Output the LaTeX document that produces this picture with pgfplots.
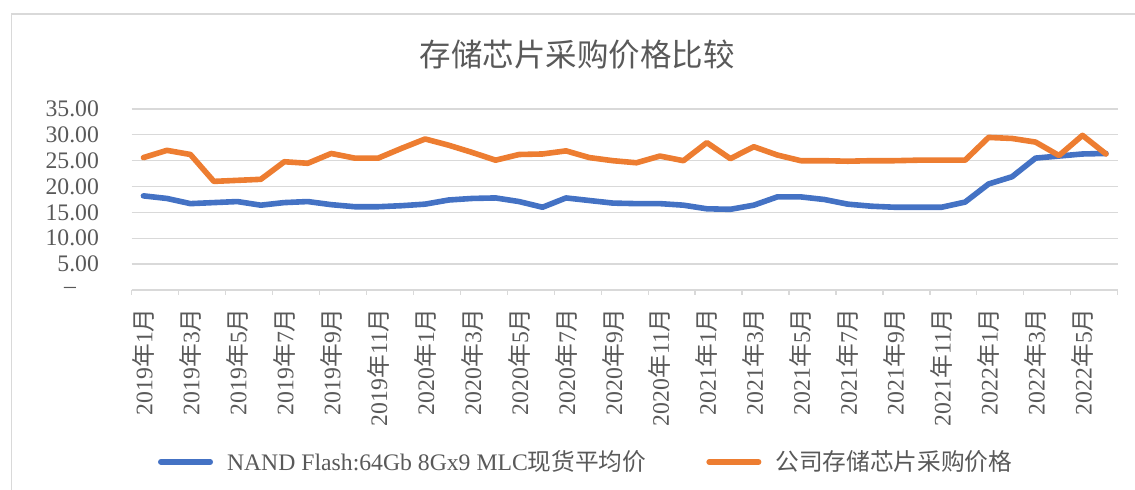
\documentclass[border=0pt]{standalone}
\usepackage{fontspec}
\setmainfont{Liberation Serif}
\newfontfamily\cjk{Noto Sans CJK SC}
\usepackage{pgfplots}
\pgfplotsset{compat=1.18}

\definecolor{nandblue}{HTML}{4472C4}
\definecolor{buyorange}{HTML}{ED7D31}
\definecolor{txtgray}{HTML}{595959}
\definecolor{gridgray}{HTML}{D9D9D9}

% year/month label: digits in the serif, CJK in Noto
\newcommand{\ym}[2]{#1{\cjk 年}#2{\cjk 月}}
\newcommand{\basefont}{\fontsize{11.85}{14}\selectfont}

\begin{document}
\begin{tikzpicture}[x=0.5pt,y=0.5pt]
  % 1 unit = 1 px of the reference
  \path[use as bounding box] (0,0) rectangle (1135,490);
  \draw[gridgray, line width=0.65pt] (11.5,0) -- (11.5,476) -- (1135,476);

  \node[text=txtgray, font=\fontsize{15.75}{18}\selectfont\cjk] at (577,435) {存储芯片采购价格比较};

  \begin{axis}[
      at={(65.85pt,100pt)}, anchor=south west,
      scale only axis, width=493pt, height=90.5pt,
      xmin=-0.5, xmax=41.5, ymin=0, ymax=35,
      enlargelimits=false,
      axis x line*=bottom, axis y line*=left,
      x axis line style={draw=gridgray, line width=0.65pt, -},
      y axis line style={draw=none},
      ytick={0,5,...,35},
      yticklabels={{–\rule{11.5pt}{0pt}}, 5.00, 10.00, 15.00, 20.00, 25.00, 30.00, 35.00},
      yticklabel style={anchor=east, inner sep=0pt, xshift=-16.2pt},
      ymajorgrids, grid style={draw=gridgray, line width=0.65pt},
      xtick={0,2,...,40},
      xticklabels={\ym{2019}{1}, \ym{2019}{3}, \ym{2019}{5}, \ym{2019}{7}, \ym{2019}{9}, \ym{2019}{11},
        \ym{2020}{1}, \ym{2020}{3}, \ym{2020}{5}, \ym{2020}{7}, \ym{2020}{9}, \ym{2020}{11},
        \ym{2021}{1}, \ym{2021}{3}, \ym{2021}{5}, \ym{2021}{7}, \ym{2021}{9}, \ym{2021}{11},
        \ym{2022}{1}, \ym{2022}{3}, \ym{2022}{5}},
      xticklabel style={rotate=90, anchor=east, inner sep=0pt},
      xticklabel shift=9pt,
      minor xtick={-0.5,1.5,...,41.5},
      tick align=outside,
      major tick length=0pt, minor tick length=2.5pt,
      tick style={draw=gridgray, line width=0.65pt},
      ticklabel style={text=txtgray, font=\basefont},
      legend columns=2,
      legend style={at={(0.0267,-0.950)}, anchor=west, draw=none, fill=none,
        inner sep=0pt, outer sep=0pt, text=txtgray, font=\basefont,
        nodes={inner sep=0pt},
        /tikz/every odd column/.append style={column sep=7pt},
        /tikz/every even column/.append style={column sep=30pt}},
      legend image code/.code={\draw[#1] (1.4pt,0pt) -- (26.1pt,0pt);},
      every axis plot/.append style={line width=2.8pt, line cap=round, line join=round},
    ]
    \addplot[nandblue] coordinates {
      (0,18.2) (1,17.7) (2,16.7) (3,16.9) (4,17.1) (5,16.4) (6,16.9) (7,17.1)
      (8,16.5) (9,16.1) (10,16.1) (11,16.3) (12,16.6) (13,17.4) (14,17.7) (15,17.8)
      (16,17.1) (17,16.0) (18,17.8) (19,17.3) (20,16.8) (21,16.7) (22,16.7) (23,16.4)
      (24,15.7) (25,15.6) (26,16.4) (27,18.0) (28,18.0) (29,17.5) (30,16.6) (31,16.2)
      (32,16.0) (33,16.0) (34,16.0) (35,17.0) (36,20.5) (37,21.9) (38,25.5) (39,25.9)
      (40,26.3) (41,26.4)
    };
    \addlegendentry{NAND Flash:64Gb 8Gx9 MLC{\cjk 现货平均价}}

    \addplot[buyorange] coordinates {
      (0,25.6) (1,27.0) (2,26.2) (3,21.0) (4,21.2) (5,21.4) (6,24.8) (7,24.5)
      (8,26.4) (9,25.5) (10,25.5) (11,27.4) (12,29.2) (13,28.0) (14,26.6) (15,25.1)
      (16,26.2) (17,26.3) (18,26.9) (19,25.6) (20,25.0) (21,24.6) (22,25.9) (23,25.0)
      (24,28.5) (25,25.4) (26,27.7) (27,26.1) (28,25.0) (29,25.0) (30,24.9) (31,25.0)
      (32,25.0) (33,25.1) (34,25.1) (35,25.1) (36,29.5) (37,29.3) (38,28.6) (39,26.0)
      (40,29.9) (41,26.3)
    };
    \addlegendentry{{\cjk 公司存储芯片采购价格}}
  \end{axis}
\end{tikzpicture}
\end{document}
